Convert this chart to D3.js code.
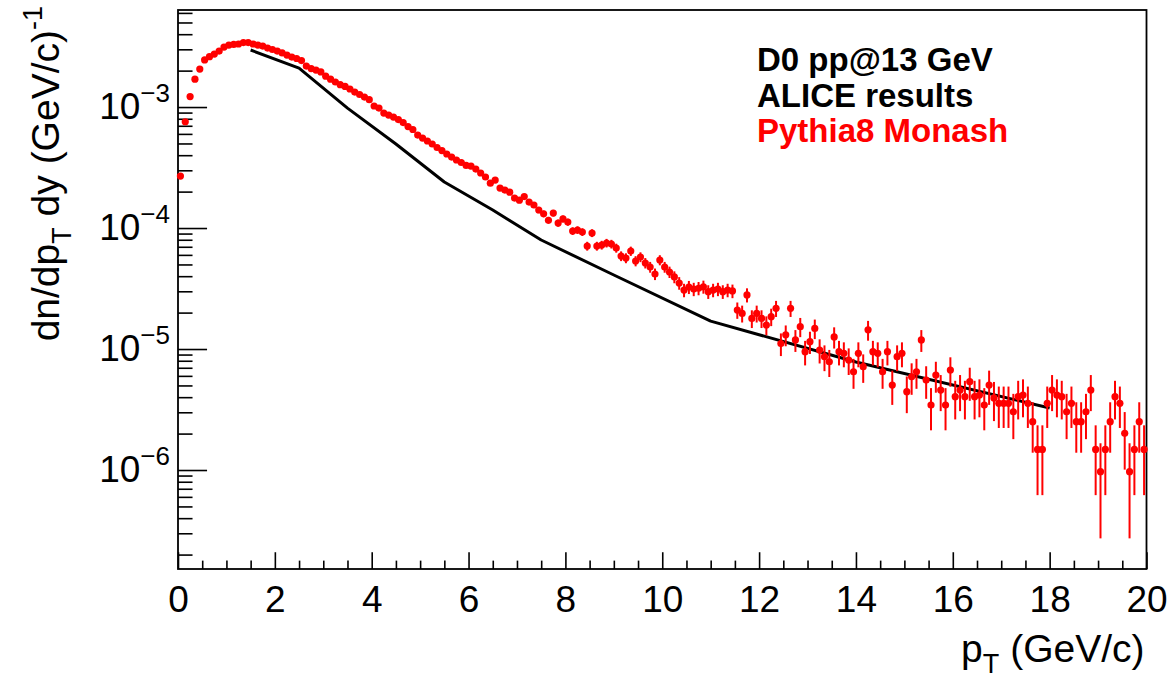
<!DOCTYPE html>
<html>
<head>
<meta charset="utf-8">
<script src="https://cdn.jsdelivr.net/npm/d3@7"></script>
<style>
  body { margin: 0; background: #ffffff; }
  svg { display: block; }
  text { font-family: "Liberation Sans", Arial, Helvetica, sans-serif; }
</style>
</head>
<body>
<svg id="chart" width="1171" height="679"></svg>
<script>
// ---------------- data ----------------
// Pythia8 Monash histogram: 200 bins of width 0.1 GeV/c from 0 to 20
const pythiaBinLow = 0;
const pythiaBinWidth = 0.1;
const pythiaValues = [
  2.69e-4, 7.56e-4, 1.22e-3, 1.70e-3, 2.06e-3, 2.45e-3, 2.61e-3, 2.74e-3, 2.90e-3, 3.13e-3,
  3.25e-3, 3.29e-3, 3.32e-3, 3.41e-3, 3.41e-3, 3.32e-3, 3.25e-3, 3.19e-3, 3.07e-3, 2.99e-3,
  2.90e-3, 2.80e-3, 2.69e-3, 2.59e-3, 2.52e-3, 2.42e-3, 2.18e-3, 2.08e-3, 2.02e-3, 1.95e-3,
  1.80e-3, 1.70e-3, 1.61e-3, 1.53e-3, 1.48e-3, 1.41e-3, 1.33e-3, 1.27e-3, 1.21e-3, 1.15e-3,
  1.02e-3, 9.81e-4, 8.92e-4, 8.59e-4, 8.27e-4, 7.88e-4, 7.44e-4, 6.90e-4, 6.52e-4, 5.87e-4,
  5.54e-4, 5.24e-4, 4.95e-4, 4.63e-4, 4.37e-4, 4.09e-4, 3.86e-4, 3.65e-4, 3.48e-4, 3.29e-4,
  3.25e-4, 3.07e-4, 2.85e-4, 2.64e-4, 2.35e-4, 2.49e-4, 2.14e-4, 2.06e-4, 1.98e-4, 1.77e-4,
  1.70e-4, 1.82e-4, 1.64e-4, 1.55e-4, 1.41e-4, 1.31e-4, 1.16e-4, 1.33e-4, 1.10e-4, 1.19e-4,
  1.12e-4, 9.45e-5, 9.63e-5, 9.27e-5, 7.10e-5, 9.09e-5, 7.10e-5, 7.24e-5, 7.52e-5, 7.38e-5,
  6.84e-5, 5.87e-5, 5.65e-5, 6.45e-5, 5.34e-5, 5.76e-5, 5.14e-5, 4.76e-5, 4.17e-5, 5.44e-5,
  4.76e-5, 4.33e-5, 3.94e-5, 3.51e-5, 3.07e-5, 3.25e-5, 3.13e-5, 3.18e-5, 3.27e-5, 2.98e-5,
  3.07e-5, 3.13e-5, 2.98e-5, 3.07e-5, 3.02e-5, 2.10e-5, 1.97e-5, 2.80e-5, 1.79e-5, 1.97e-5,
  1.79e-5, 1.58e-5, 1.85e-5, 2.17e-5, 1.11e-5, 1.31e-5, 2.17e-5, 1.19e-5, 1.53e-5, 9.50e-6,
  1.15e-5, 1.48e-5, 9.81e-6, 8.64e-6, 7.85e-6, 1.26e-5, 9.50e-6, 9.21e-6, 8.11e-6, 6.49e-6,
  9.21e-6, 7.14e-6, 1.44e-5, 9.50e-6, 9.21e-6, 6.49e-6, 9.50e-6, 5.04e-6, 8.64e-6, 9.21e-6,
  4.44e-6, 5.90e-6, 6.49e-6, 1.19e-5, 5.54e-6, 3.44e-6, 6.10e-6, 4.58e-6, 3.44e-6, 6.71e-6,
  4.04e-6, 4.58e-6, 4.04e-6, 5.37e-6, 4.04e-6, 4.17e-6, 3.44e-6, 5.04e-6, 3.94e-6, 3.56e-6,
  3.56e-6, 3.56e-6, 3.03e-6, 4.04e-6, 4.17e-6, 3.56e-6, 2.51e-6, 1.48e-6, 1.48e-6, 3.56e-6,
  4.58e-6, 4.17e-6, 4.04e-6, 3.03e-6, 3.56e-6, 2.51e-6, 2.51e-6, 3.03e-6, 4.58e-6, 1.48e-6,
  9.68e-7, 1.48e-6, 2.51e-6, 4.04e-6, 3.56e-6, 2.01e-6, 9.68e-7, 1.48e-6, 2.51e-6, 1.48e-6
];
// weight of one generated entry (errors are Poisson: sqrt(N) * weight)
const pythiaEntryWeight = 5.0e-7;

// ALICE results (black line)
const alicePt = [1.5, 2.5, 3.5, 4.5, 5.5, 6.5, 7.5, 9, 11, 14, 18];
const aliceValues = [2.96e-3, 2.10e-3, 9.8e-4, 4.95e-4, 2.40e-4, 1.41e-4, 7.96e-5, 4.09e-5, 1.70e-5, 7.82e-6, 3.25e-6];

// axes
const xDomain = [0, 20];
const yDomain = [1.52e-7, 6.34e-3];
const xMajorTicks = [0, 2, 4, 6, 8, 10, 12, 14, 16, 18, 20];
const xTickLabels = ["0", "2", "4", "6", "8", "10", "12", "14", "16", "18", "20"];
const yMajorTicks = [1e-6, 1e-5, 1e-4, 1e-3];
const yTickExponents = ["\u22126", "\u22125", "\u22124", "\u22123"];

const legendLines = [
  { text: "D0 pp@13 GeV", color: "#000000" },
  { text: "ALICE results", color: "#000000" },
  { text: "Pythia8 Monash", color: "#ff0000" }
];

// ---------------- layout ----------------
const frame = { left: 178, right: 1146.5, top: 10, bottom: 569 };
const svg = d3.select("#chart");

const x = d3.scaleLinear().domain(xDomain).range([frame.left, frame.right]);
const y = d3.scaleLog().domain(yDomain).range([frame.bottom, frame.top]);

const xMinorTicks = d3.range(xDomain[0], xDomain[1] + 1e-9, 0.5).filter(v => Math.abs(v / 2 - Math.round(v / 2)) > 1e-6);
const yMinorTicks = [];
for (let e = -7; e <= -2; e++) for (let k = 2; k <= 9; k++) {
  const v = k * Math.pow(10, e);
  if (v > yDomain[0] && v < yDomain[1]) yMinorTicks.push(v);
}

const frameW = frame.right - frame.left, frameH = frame.bottom - frame.top;
const xTickLen = 0.03 * frameH, yTickLen = 0.03 * frameW;

// x axis minor ticks
svg.append("g")
  .attr("transform", `translate(0,${frame.bottom})`)
  .call(d3.axisBottom(x).tickValues(xMinorTicks).tickSize(-xTickLen / 2).tickSizeOuter(0).tickFormat(""))
  .call(g => g.select(".domain").remove())
  .call(g => g.selectAll("line").attr("stroke", "#000").attr("stroke-width", 1.6));

// x axis major ticks + labels
svg.append("g")
  .attr("transform", `translate(0,${frame.bottom})`)
  .call(d3.axisBottom(x).tickValues(xMajorTicks).tickSize(-xTickLen).tickSizeOuter(0)
    .tickPadding(17).tickFormat((d, i) => xTickLabels[i]))
  .call(g => g.select(".domain").remove())
  .call(g => g.selectAll("line").attr("stroke", "#000").attr("stroke-width", 1.6))
  .call(g => g.selectAll("text").attr("font-size", 37).attr("fill", "#000")
    .attr("font-family", "'Liberation Sans', Arial, sans-serif"));

// y axis minor ticks
svg.append("g")
  .attr("transform", `translate(${frame.left},0)`)
  .call(d3.axisLeft(y).tickValues(yMinorTicks).tickSize(-yTickLen / 2).tickSizeOuter(0).tickFormat(""))
  .call(g => g.select(".domain").remove())
  .call(g => g.selectAll("line").attr("stroke", "#000").attr("stroke-width", 1.6));

// y axis major ticks + labels
svg.append("g")
  .attr("transform", `translate(${frame.left},0)`)
  .call(d3.axisLeft(y).tickValues(yMajorTicks).tickSize(-yTickLen).tickSizeOuter(0).tickPadding(8).tickFormat(""))
  .call(g => g.select(".domain").remove())
  .call(g => g.selectAll("line").attr("stroke", "#000").attr("stroke-width", 1.6))
  .call(g => g.selectAll(".tick text").each(function (d, i) {
    const t = d3.select(this).attr("font-size", 37).attr("fill", "#000")
      .attr("font-family", "'Liberation Sans', Arial, sans-serif");
    t.append("tspan").text("10");
    t.append("tspan").attr("font-size", 26).attr("dy", -17).text(yTickExponents[i]);
  }));

// frame
svg.append("rect")
  .attr("x", frame.left).attr("y", frame.top)
  .attr("width", frameW).attr("height", frameH)
  .attr("fill", "none").attr("stroke", "#000").attr("stroke-width", 1.8);

// ALICE line
svg.append("path")
  .datum(alicePt.map((p, i) => [p, aliceValues[i]]))
  .attr("fill", "none").attr("stroke", "#000").attr("stroke-width", 3)
  .attr("stroke-linejoin", "round")
  .attr("d", d3.line().x(d => x(d[0])).y(d => y(d[1])));

// Pythia histogram points with error bars
const pts = pythiaValues.map((v, i) => {
  const err = Math.sqrt(v * pythiaEntryWeight);
  return { pt: pythiaBinLow + (i + 0.5) * pythiaBinWidth, v, lo: Math.max(v - err, yDomain[0]), hi: v + err };
});
const gP = svg.append("g");
gP.selectAll("line.err").data(pts).join("line")
  .attr("class", "err")
  .attr("x1", d => x(d.pt)).attr("x2", d => x(d.pt))
  .attr("y1", d => y(d.lo)).attr("y2", d => y(d.hi))
  .attr("stroke", "#ff0000").attr("stroke-width", 2);
gP.selectAll("circle").data(pts).join("circle")
  .attr("cx", d => x(d.pt)).attr("cy", d => y(d.v)).attr("r", 3.6)
  .attr("fill", "#ff0000");

// legend texts
svg.append("g").selectAll("text").data(legendLines).join("text")
  .attr("x", 757).attr("y", (d, i) => 71 + i * 35.5)
  .attr("font-size", 33).attr("font-weight", "bold")
  .attr("fill", d => d.color).text(d => d.text);

// x title
const xt = svg.append("text")
  .attr("x", frame.right - 2).attr("y", 662).attr("text-anchor", "end")
  .attr("font-size", 39).attr("fill", "#000");
xt.append("tspan").text("p");
xt.append("tspan").attr("font-size", 27).attr("dy", 11).text("T");
xt.append("tspan").attr("dy", -11).text(" (GeV/c)");

// y title
const yt = svg.append("text")
  .attr("transform", "translate(59,6) rotate(-90)")
  .attr("text-anchor", "end").attr("font-size", 39).attr("fill", "#000");
yt.append("tspan").text("dn/dp");
yt.append("tspan").attr("font-size", 27).attr("dy", 12).text("T");
yt.append("tspan").attr("dy", -12).text(" dy (GeV/c)");
yt.append("tspan").attr("font-size", 27).attr("dy", -17).text("-1");
</script>
</body>
</html>
